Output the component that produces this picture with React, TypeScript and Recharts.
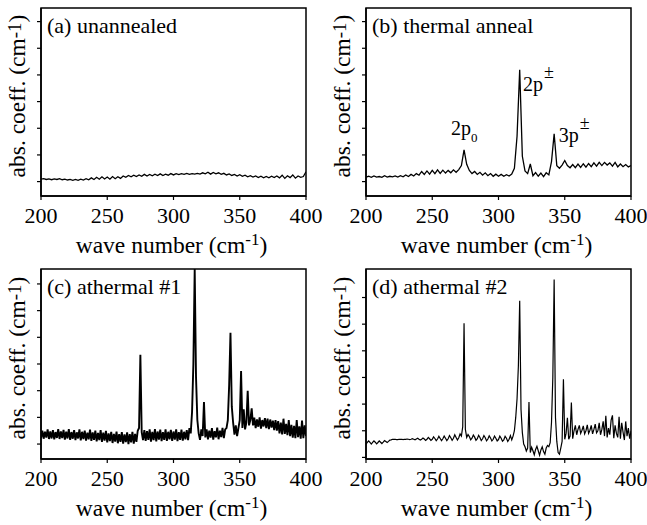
import React from 'react';
import { ComposedChart, Line, XAxis, YAxis, ReferenceArea, ReferenceDot, Label } from 'recharts';

const FONT = '"Liberation Serif", "Times New Roman", Times, serif';

// coarse wavenumber grid (cm-1) for panels (a) and (b)
const WAVENUMBERS = [
  200, 202, 204, 206, 208, 210, 212, 214, 216, 218,
  220, 222, 224, 226, 228, 230, 232, 234, 236, 238,
  240, 242, 244, 246, 248, 250, 252, 254, 256, 258,
  260, 262, 264, 266, 268, 270, 272, 274, 276, 278,
  280, 282, 284, 286, 288, 290, 292, 294, 296, 298,
  300, 302, 304, 306, 308, 310, 312, 314, 316, 318,
  320, 322, 324, 326, 328, 330, 332, 334, 336, 338,
  340, 342, 344, 346, 348, 350, 352, 354, 356, 358,
  360, 362, 364, 366, 368, 370, 372, 374, 376, 378,
  380, 382, 384, 386, 388, 390, 392, 394, 396, 398,
  400,
];

// fine wavenumber grid (cm-1) for panels (c) and (d)
const WAVENUMBERS_FINE = [
  200, 201, 202, 203, 204, 205, 206, 207, 208, 209,
  210, 211, 212, 213, 214, 215, 216, 217, 218, 219,
  220, 221, 222, 223, 224, 225, 226, 227, 228, 229,
  230, 231, 232, 233, 234, 235, 236, 237, 238, 239,
  240, 241, 242, 243, 244, 245, 246, 247, 248, 249,
  250, 251, 252, 253, 254, 255, 256, 257, 258, 259,
  260, 261, 262, 263, 264, 265, 266, 267, 268, 269,
  270, 271, 272, 273, 274, 275, 276, 277, 278, 279,
  280, 281, 282, 283, 284, 285, 286, 287, 288, 289,
  290, 291, 292, 293, 294, 295, 296, 297, 298, 299,
  300, 301, 302, 303, 304, 305, 306, 307, 308, 309,
  310, 311, 312, 313, 314, 315, 316, 317, 318, 319,
  320, 321, 322, 323, 324, 325, 326, 327, 328, 329,
  330, 331, 332, 333, 334, 335, 336, 337, 338, 339,
  340, 341, 342, 343, 344, 345, 346, 347, 348, 349,
  350, 351, 352, 353, 354, 355, 356, 357, 358, 359,
  360, 361, 362, 363, 364, 365, 366, 367, 368, 369,
  370, 371, 372, 373, 374, 375, 376, 377, 378, 379,
  380, 381, 382, 383, 384, 385, 386, 387, 388, 389,
  390, 391, 392, 393, 394, 395, 396, 397, 398, 399,
  400,
];

const X_TICKS = [200, 250, 300, 350, 400];
const Y_TICKS = [0, 1, 2, 3, 4, 5, 6];

const PANEL_TITLES = ['(a) unannealed', '(b) thermal anneal', '(c) athermal #1', '(d) athermal #2'];

// (a) unannealed
const UNANNEALED = [
  0.09, 0.11, 0.08, 0.10, 0.07, 0.10, 0.08, 0.11, 0.07, 0.09,
  0.06, 0.08, 0.05, 0.08, 0.05, 0.09, 0.06, 0.11, 0.07, 0.14,
  0.08, 0.16, 0.09, 0.18, 0.10, 0.17, 0.09, 0.19, 0.11, 0.18,
  0.12, 0.21, 0.16, 0.23, 0.18, 0.24, 0.19, 0.25, 0.20, 0.27,
  0.21, 0.27, 0.22, 0.28, 0.23, 0.29, 0.23, 0.28, 0.24, 0.30,
  0.25, 0.30, 0.26, 0.30, 0.27, 0.31, 0.27, 0.30, 0.28, 0.31,
  0.28, 0.33, 0.29, 0.35, 0.28, 0.34, 0.29, 0.33, 0.27, 0.31,
  0.25, 0.29, 0.23, 0.27, 0.21, 0.26, 0.20, 0.24, 0.18, 0.22,
  0.17, 0.21, 0.15, 0.20, 0.14, 0.19, 0.14, 0.20, 0.15, 0.21,
  0.14, 0.24, 0.12, 0.22, 0.15, 0.25, 0.13, 0.21, 0.16, 0.19,
  0.37,
];

// (b) thermal anneal
const THERMAL = [
  0.17, 0.20, 0.16, 0.21, 0.17, 0.19, 0.16, 0.22, 0.17, 0.20,
  0.18, 0.21, 0.17, 0.22, 0.18, 0.25, 0.19, 0.27, 0.21, 0.30,
  0.24, 0.38, 0.27, 0.40, 0.28, 0.42, 0.30, 0.44, 0.31, 0.43,
  0.32, 0.42, 0.33, 0.44, 0.35, 0.45, 0.60, 1.19, 0.65, 0.42,
  0.30, 0.38, 0.27, 0.35, 0.24, 0.33, 0.22, 0.30, 0.20, 0.28,
  0.20, 0.27, 0.20, 0.26, 0.21, 0.28, 0.50, 1.70, 4.19, 0.95,
  0.40, 0.30, 0.66, 0.22, 0.34, 0.20, 0.32, 0.19, 0.33, 0.25,
  0.75, 1.79, 0.60, 0.50, 0.62, 0.79, 0.60, 0.52, 0.64, 0.52,
  0.66, 0.53, 0.67, 0.54, 0.68, 0.56, 0.70, 0.58, 0.72, 0.60,
  0.72, 0.62, 0.70, 0.58, 0.72, 0.55, 0.66, 0.56, 0.64, 0.55,
  0.60,
];

// (c) athermal #1 (dense fringes, 1 cm-1 steps)
const ATHERMAL1 = [
  0.22, 0.50, 0.20, 0.46, 0.24, 0.55, 0.19, 0.47, 0.21, 0.52,
  0.18, 0.45, 0.23, 0.56, 0.19, 0.47, 0.22, 0.53, 0.17, 0.46,
  0.21, 0.56, 0.16, 0.45, 0.20, 0.52, 0.15, 0.44, 0.21, 0.55,
  0.14, 0.46, 0.19, 0.50, 0.13, 0.43, 0.18, 0.54, 0.12, 0.44,
  0.16, 0.50, 0.10, 0.42, 0.15, 0.52, 0.08, 0.43, 0.13, 0.49,
  0.06, 0.40, 0.11, 0.46, 0.04, 0.38, 0.09, 0.47, 0.03, 0.37,
  0.08, 0.45, 0.02, 0.36, 0.07, 0.44, 0.00, 0.37, 0.06, 0.46,
  0.02, 0.38, 0.08, 0.50, 0.60, 3.35, 0.45, 0.15, 0.52, 0.12,
  0.48, 0.16, 0.55, 0.09, 0.46, 0.15, 0.56, 0.10, 0.47, 0.17,
  0.54, 0.11, 0.45, 0.16, 0.55, 0.12, 0.46, 0.18, 0.53, 0.12,
  0.47, 0.17, 0.55, 0.11, 0.45, 0.16, 0.54, 0.13, 0.46, 0.18,
  0.52, 0.15, 0.60, 0.40, 1.20, 3.00, 6.56, 2.50, 0.90, 0.40,
  0.16, 0.55, 0.30, 1.57, 0.25, 0.55, 0.18, 0.50, 0.24, 0.60,
  0.17, 0.48, 0.25, 0.62, 0.18, 0.50, 0.26, 0.61, 0.22, 0.55,
  0.60, 0.90, 2.20, 4.17, 1.40, 0.80, 0.35, 0.70, 0.30, 0.60,
  0.90, 2.74, 0.60, 1.30, 0.55, 0.80, 2.00, 0.70, 0.90, 1.34,
  0.70, 0.99, 0.60, 0.92, 0.65, 1.00, 0.58, 0.90, 0.66, 0.97,
  0.60, 0.95, 0.56, 0.92, 0.62, 0.88, 0.52, 0.90, 0.50, 0.86,
  0.40, 0.80, 0.36, 0.95, 0.38, 0.76, 0.33, 0.90, 0.30, 0.72,
  0.24, 0.68, 0.22, 0.90, 0.26, 0.66, 0.20, 0.88, 0.22, 0.70,
  0.30,
];

// (d) athermal #2 (1 cm-1 steps)
const ATHERMAL2 = [
  0.50, 0.56, 0.62, 0.56, 0.50, 0.56, 0.62, 0.57, 0.51, 0.56,
  0.62, 0.57, 0.52, 0.57, 0.63, 0.60, 0.56, 0.60, 0.65, 0.66,
  0.68, 0.68, 0.68, 0.67, 0.67, 0.68, 0.68, 0.68, 0.67, 0.68,
  0.68, 0.69, 0.68, 0.67, 0.68, 0.70, 0.68, 0.66, 0.69, 0.72,
  0.68, 0.65, 0.68, 0.73, 0.69, 0.64, 0.68, 0.75, 0.70, 0.64,
  0.68, 0.77, 0.71, 0.63, 0.69, 0.79, 0.71, 0.63, 0.70, 0.80,
  0.72, 0.63, 0.70, 0.82, 0.74, 0.64, 0.72, 0.85, 0.75, 0.65,
  0.74, 0.88, 0.80, 1.15, 5.03, 1.05, 0.75, 0.86, 0.78, 0.66,
  0.72, 0.84, 0.76, 0.64, 0.70, 0.83, 0.75, 0.63, 0.70, 0.82,
  0.74, 0.62, 0.69, 0.81, 0.73, 0.62, 0.68, 0.80, 0.72, 0.62,
  0.67, 0.80, 0.72, 0.61, 0.66, 0.79, 0.72, 0.60, 0.68, 0.82,
  0.66, 0.80, 1.00, 1.50, 2.20, 3.43, 5.88, 1.80, 0.93, 0.50,
  0.40, 0.24, 0.35, 2.08, 0.18, 0.38, 0.25, 0.10, 0.30, 0.42,
  0.25, 0.08, 0.28, 0.40, 0.22, 0.12, 0.35, 0.45, 0.40, 0.55,
  1.31, 3.00, 6.68, 1.50, 0.60, 0.18, 0.12, 0.35, 0.60, 2.93,
  0.68, 0.90, 1.49, 0.68, 0.80, 2.06, 0.70, 1.00, 1.20, 0.85,
  1.05, 1.20, 0.90, 1.02, 1.18, 0.88, 1.00, 1.22, 0.90, 1.02,
  1.20, 0.88, 1.05, 1.25, 0.92, 1.00, 1.30, 0.85, 1.05, 1.35,
  0.80, 1.56, 0.75, 1.10, 0.85, 1.40, 1.58, 0.72, 1.20, 0.90,
  0.75, 1.52, 0.70, 1.30, 0.95, 0.65, 1.35, 0.80, 1.10, 0.70,
  1.00,
];

// peak labels in panel (b)
const PEAK_LABEL_X = [264.2, 318.5, 345.5];
const PEAK_LABEL_Y = [1.75, 3.4, 1.5];
const PEAK_LABEL_MAIN = ['2p', '2p', '3p'];
const PEAK_LABEL_SUB = ['0', '', ''];
const PEAK_LABEL_SUP = ['', '±', '±'];

const rowsOf = (xs: number[], vals: number[]) => xs.map((x, i) => ({ x, y: vals[i] }));

const yLabelContent = (props: any) => {
  const vb = props && props.viewBox ? props.viewBox : { x: 0, y: 8, width: 41, height: 188 };
  const x = (vb.x || 0) + 25;
  const y = vb.y + vb.height / 2 - 6;
  return (
    <text x={x} y={y} transform={`rotate(-90, ${x}, ${y})`} textAnchor="middle" fontFamily={FONT} fontSize={23.5} fill="#000">
      abs. coeff. (cm<tspan dy={-4} fontSize={19}>-1</tspan><tspan dy={4}>)</tspan>
    </text>
  );
};

const xLabelContent = (props: any) => {
  const vb = props.viewBox;
  const x = vb.x + vb.width / 2 - 2;
  const y = vb.y + 57;
  return (
    <text x={x} y={y} textAnchor="middle" fontFamily={FONT} fontSize={23.5} fill="#000">
      wave number (cm<tspan dy={-8} fontSize={17}>-1</tspan><tspan dy={8}>)</tspan>
    </text>
  );
};

const titleContent = (title: string) => (props: any) => {
  const vb = props.viewBox;
  return (
    <text x={vb.x + 6} y={vb.y + 25} fontFamily={FONT} fontSize={22} fill="#000">
      {title}
    </text>
  );
};

const peakContent = (i: number) => (props: any) => {
  const vb = props.viewBox;
  return (
    <text x={vb.x} y={vb.y} fontFamily={FONT} fontSize={20} fill="#000">
      {PEAK_LABEL_MAIN[i]}
      {PEAK_LABEL_SUB[i] ? <tspan dy={7} fontSize={13}>{PEAK_LABEL_SUB[i]}</tspan> : null}
      {PEAK_LABEL_SUP[i] ? <tspan dx={1} dy={-13} fontSize={18}>{PEAK_LABEL_SUP[i]}</tspan> : null}
    </text>
  );
};

type PanelProps = {
  left: number;
  top: number;
  width: number;
  rightMargin: number;
  xAxisHeight: number;
  domain: [number, number];
  title: string;
  rows: any[];
  strokeWidth: number;
  peaks?: boolean;
};

function Panel({ left, top, width, rightMargin, xAxisHeight, domain, title, rows, strokeWidth, peaks }: PanelProps) {
  return (
    <div style={{ position: 'absolute', left, top, width, height: 262 }}>
      <ComposedChart width={width} height={262} data={rows} margin={{ top: 8, right: rightMargin, bottom: 0, left: 0 }}>
        <XAxis
          type="number"
          dataKey="x"
          domain={[200, 400]}
          ticks={X_TICKS}
          interval={0}
          allowDataOverflow
          height={xAxisHeight}
          tickSize={4}
          tickMargin={7}
          tick={{ fill: '#000', fontSize: 22, fontFamily: FONT }}
          axisLine={{ stroke: '#000', strokeWidth: 1.5 }}
          tickLine={{ stroke: '#000', strokeWidth: 1.2 }}
          label={xLabelContent}
        />
        <YAxis
          type="number"
          domain={domain}
          ticks={Y_TICKS}
          allowDataOverflow
          width={41}
          tickFormatter={() => ''}
          tick={{ fontSize: 1 }}
          tickSize={4}
          axisLine={{ stroke: '#000', strokeWidth: 1.5 }}
          tickLine={{ stroke: '#000', strokeWidth: 1.2 }}
          label={yLabelContent}
        />
        <ReferenceArea
          x1={200}
          x2={400}
          y1={domain[0]}
          y2={domain[1]}
          fill="none"
          fillOpacity={0}
          stroke="#000"
          strokeWidth={1.5}
          ifOverflow="visible"
        >
          <Label content={titleContent(title)} />
        </ReferenceArea>
        <Line type="linear" dataKey="y" stroke="#000" strokeWidth={strokeWidth} dot={false} isAnimationActive={false} />
        {peaks
          ? PEAK_LABEL_X.map((px, i) => (
              <ReferenceDot key={i} x={px} y={PEAK_LABEL_Y[i]} r={0} fill="none" stroke="none" ifOverflow="visible">
                <Label content={peakContent(i)} />
              </ReferenceDot>
            ))
          : null}
      </ComposedChart>
    </div>
  );
}

export default function App() {
  return (
    <div style={{ position: 'absolute', left: 0, top: 0, width: 647, height: 525, overflow: 'hidden', background: '#fff' }}>
      <Panel left={0} top={0} width={323} rightMargin={17} xAxisHeight={66} domain={[-0.54, 6.51]} title={PANEL_TITLES[0]} rows={rowsOf(WAVENUMBERS, UNANNEALED)} strokeWidth={1.3} />
      <Panel left={325} top={0} width={322} rightMargin={16} xAxisHeight={66} domain={[-0.54, 6.51]} title={PANEL_TITLES[1]} rows={rowsOf(WAVENUMBERS, THERMAL)} strokeWidth={1.3} peaks />
      <Panel left={0} top={261} width={323} rightMargin={17} xAxisHeight={64} domain={[-0.56, 6.56]} title={PANEL_TITLES[2]} rows={rowsOf(WAVENUMBERS_FINE, ATHERMAL1)} strokeWidth={1.9} />
      <Panel left={325} top={261} width={322} rightMargin={16} xAxisHeight={64} domain={[-0.06, 7.07]} title={PANEL_TITLES[3]} rows={rowsOf(WAVENUMBERS_FINE, ATHERMAL2)} strokeWidth={1.2} />
    </div>
  );
}
